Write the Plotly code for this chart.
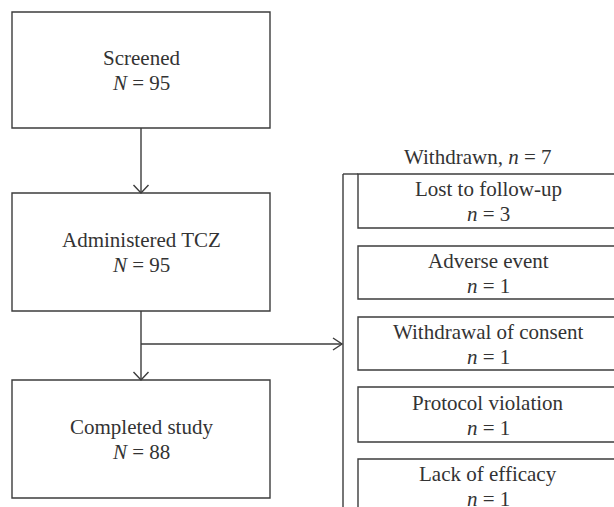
import plotly.graph_objects as go

# ---- data ----
main_labels = ["Screened", "Administered TCZ", "Completed study"]
main_counts = [95, 95, 88]
withdrawn_total = 7
reason_labels = ["Lost to follow-up", "Adverse event", "Withdrawal of consent",
                 "Protocol violation", "Lack of efficacy"]
reason_counts = [3, 1, 1, 1, 1]

# ---- layout constants ----
W, H = 614, 507
LINE = "#3c3c3c"
TXT = "#333333"
FONT = "Liberation Serif"
FS = 21

main_x0, main_x1 = 12, 270
main_cx = (main_x0 + main_x1) / 2
main_boxes = [(12, 128), (193, 311), (380, 498)]

bracket_x = 343
reason_x0, reason_x1 = 358, 617
reason_cx = 488
reason_boxes = [(174, 228), (246, 299), (317, 370), (387, 442), (459, 512)]
branch_y = 344

shapes = []
annotations = []


def line(x0, y0, x1, y1):
    shapes.append(dict(type="line", x0=x0, y0=y0, x1=x1, y1=y1, xref="x", yref="y",
                       line=dict(color=LINE, width=1.4)))


def rect(x0, y0, x1, y1):
    shapes.append(dict(type="rect", x0=x0, y0=y0, x1=x1, y1=y1, xref="x", yref="y",
                       line=dict(color=LINE, width=1.4), fillcolor="rgba(0,0,0,0)"))


def chevron_down(x, y):
    shapes.append(dict(type="path", path=f"M {x-7.5},{y-8} L {x},{y} L {x+7.5},{y-8}",
                       xref="x", yref="y", line=dict(color=LINE, width=1.4)))


def chevron_right(x, y):
    shapes.append(dict(type="path", path=f"M {x-9},{y-6} L {x},{y} L {x-9},{y+6}",
                       xref="x", yref="y", line=dict(color=LINE, width=1.4)))


def text(x, y, s):
    annotations.append(dict(x=x, y=y, xref="x", yref="y", text=s, showarrow=False,
                            xanchor="center", yanchor="middle",
                            font=dict(family=FONT, size=FS, color=TXT)))


# main column boxes
for (y0, y1), lab, n in zip(main_boxes, main_labels, main_counts):
    rect(main_x0, y0, main_x1, y1)
    cy = (y0 + y1) / 2
    text(main_cx, cy - 12.5, lab)
    text(main_cx, cy + 12.5, f"<i>N</i> = {n}")

# vertical arrows between main boxes
for (a0, a1), (b0, b1) in zip(main_boxes[:-1], main_boxes[1:]):
    line(main_cx, a1, main_cx, b0)
    chevron_down(main_cx, b0)

# branch to withdrawn
line(main_cx, branch_y, bracket_x - 1, branch_y)
chevron_right(bracket_x - 1, branch_y)

# bracket
line(bracket_x, reason_boxes[0][0], bracket_x, H + 10)
line(bracket_x, reason_boxes[0][0], reason_x0, reason_boxes[0][0])
text(477, 157, f"Withdrawn, <i>n</i> = {withdrawn_total}")

for (y0, y1), lab, n in zip(reason_boxes, reason_labels, reason_counts):
    rect(reason_x0, y0, reason_x1, y1)
    cy = (y0 + y1) / 2
    text(reason_cx, cy - 12, lab)
    text(reason_cx, cy + 13, f"<i>n</i> = {n}")

fig = go.Figure()
fig.update_layout(
    width=W, height=H,
    margin=dict(l=0, r=0, t=0, b=0),
    paper_bgcolor="white", plot_bgcolor="white",
    xaxis=dict(range=[0, W], visible=False, fixedrange=True),
    yaxis=dict(range=[H, 0], visible=False, fixedrange=True),
    shapes=shapes, annotations=annotations,
    showlegend=False,
)
fig.write_html("out.html", config={"displayModeBar": False},
               post_script="document.body.style.margin='0';document.body.style.overflow='hidden';")
